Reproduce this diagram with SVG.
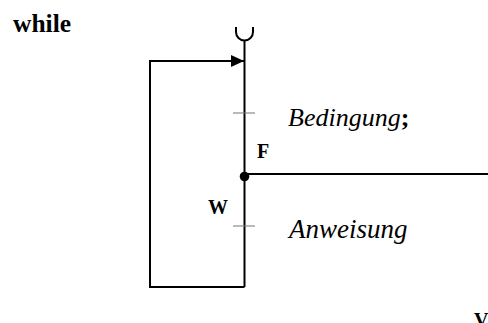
<svg xmlns="http://www.w3.org/2000/svg" width="488" height="323" viewBox="0 0 488 323">
<style>
.ln{fill:none;stroke:#000;stroke-width:2}
.tk{fill:none;stroke:#777;stroke-width:1.2}
text{font-family:'Liberation Serif','Times New Roman',Times,serif;fill:#000}
.b{font-weight:bold}
.i{font-style:italic}
</style>
<defs>
<marker id="ah" markerWidth="13" markerHeight="12" refX="13" refY="6" orient="auto" markerUnits="userSpaceOnUse">
<path d="M0,0 L13,6 L0,12 Z" fill="#000"/>
</marker>
</defs>
<rect width="488" height="323" fill="#fff"/>
<g id="title"><text class="b" x="13" y="32" font-size="25.5">while</text></g>
<g id="connectors">
<path class="ln" d="M236,27 L236,32 A8.5,8.5 0 0 0 253,32 L253,27" stroke-width="1.5"/>
<path class="ln" d="M244.5,41 L244.5,287"/>
<path class="ln" d="M244.5,287 L150,287 L150,61 L244,61" marker-end="url(#ah)"/>
<path class="ln" d="M244.5,174 L488,174"/>
<circle cx="244.5" cy="176.5" r="4.8" fill="#000"/>
<path class="tk" d="M233,113 L255,113 M233,226 L255,226"/>
</g>
<g id="condition"><text x="288" y="126" font-size="26"><tspan class="i">Bedingung</tspan><tspan class="b">;</tspan></text></g>
<g id="labelF"><text class="b" x="257" y="158" font-size="20">F</text></g>
<g id="labelW"><text class="b" x="208" y="214" font-size="20">W</text></g>
<g id="statement"><text class="i" x="289" y="238" font-size="27">Anweisung</text></g>
<g id="cut"><text class="b" x="474" y="327" font-size="20">V</text></g>
</svg>
